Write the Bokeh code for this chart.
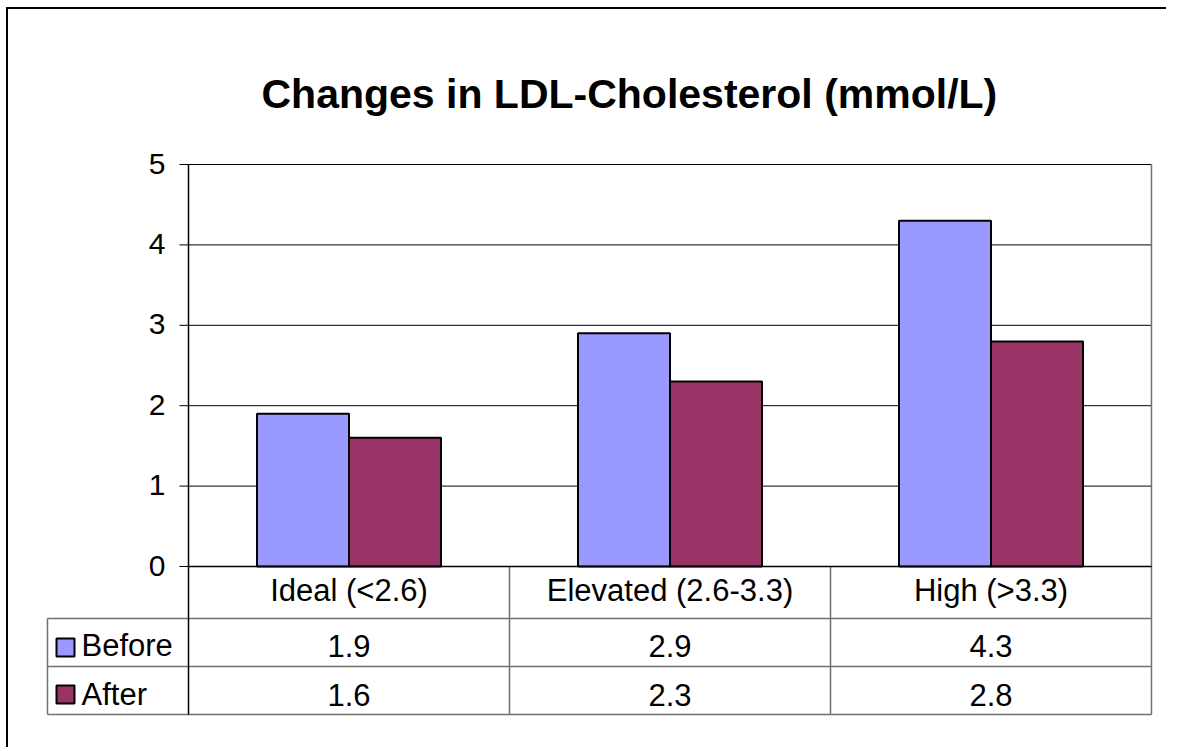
from bokeh.plotting import figure
from bokeh.models import Range1d, Title, ColumnDataSource
from bokeh.core.properties import value
from bokeh.embed import file_html
from bokeh.resources import INLINE

# ---- data ----
categories = ["Ideal (<2.6)", "Elevated (2.6-3.3)", "High (>3.3)"]
series_names = ["Before", "After"]
before = [1.9, 2.9, 4.3]
after = [1.6, 2.3, 2.8]
y_ticks = [0, 1, 2, 3, 4, 5]
title_text = "Changes in LDL-Cholesterol (mmol/L)"

# ---- styles / layout constants (pixels) ----
C_BEFORE = "#9999FF"
C_AFTER = "#993366"
FONT = "Liberation Sans"
PX_CAT = 321.0      # pixels per category
PX_UNIT = 80.4      # pixels per y unit
LEGEND_COL = 141.0  # width of the series-name column
ROW0, ROW1, ROW2 = 52.0, 48.0, 48.0
PAD = 2.0
PAD_TOP = 14.0
n = len(categories)
ymax = max(y_ticks)

def dx(px):
    return px / PX_CAT

def dy(px):
    return px / PX_UNIT

x_lo = -dx(LEGEND_COL + PAD)
x_hi = n + dx(PAD)
y_lo = -dy(ROW0 + ROW1 + ROW2 + PAD)
y_hi = ymax + dy(PAD_TOP)

p = figure(width=1160, height=740,
           x_range=Range1d(x_lo, x_hi), y_range=Range1d(y_lo, y_hi),
           x_axis_type=None, y_axis_type=None,
           output_backend="svg", toolbar_location=None,
           min_border_left=37, min_border_right=15,
           min_border_top=141, min_border_bottom=33,
           outline_line_color=None, background_fill_color="white",
           border_fill_color="white")
p.styles = {"border-left": "2px solid black", "border-top": "2px solid black",
            "margin-left": "6px", "margin-top": "7px"}

p.add_layout(Title(text=title_text, align="left", offset=216,
                   text_font=FONT, text_font_size="41px",
                   text_font_style="bold", text_color="black",
                   standoff=67), "above")

# gridlines (values above 0)
grid_vals = [t for t in y_ticks if t > 0]
p.segment(x0=[0] * len(grid_vals), x1=[n] * len(grid_vals),
          y0=grid_vals, y1=grid_vals, line_color="black", line_width=1)

# bars
bw = dx(92)
xs = [i + 0.5 for i in range(n)]
p.vbar(x=[x - bw / 2 for x in xs], top=before, width=bw, bottom=0,
       fill_color=C_BEFORE, line_color="black", line_width=2)
p.vbar(x=[x + bw / 2 for x in xs], top=after, width=bw, bottom=0,
       fill_color=C_AFTER, line_color="black", line_width=2)

# table lines
r1 = -dy(ROW0)
r2 = -dy(ROW0 + ROW1)
r3 = -dy(ROW0 + ROW1 + ROW2)
tx0 = -dx(LEGEND_COL)
tbl_h = ColumnDataSource(dict(x0=[tx0, tx0, tx0], x1=[n, n, n], y0=[r1, r2, r3], y1=[r1, r2, r3]))
p.segment(x0="x0", x1="x1", y0="y0", y1="y1", source=tbl_h, line_color="#707070", line_width=1.5)
inner = list(range(1, n))
p.segment(x0=inner, x1=inner, y0=[0] * len(inner), y1=[r3] * len(inner),
          line_color="#707070", line_width=1.5)
p.segment(x0=[tx0], x1=[tx0], y0=[r1], y1=[r3], line_color="#707070", line_width=1.5)
p.segment(x0=[n], x1=[n], y0=[ymax], y1=[r3], line_color="#707070", line_width=1.5)

# axes
p.segment(x0=[0], x1=[0], y0=[r3], y1=[ymax], line_color="black", line_width=1.5)
p.segment(x0=[0], x1=[n], y0=[0], y1=[0], line_color="black", line_width=1.5)
p.segment(x0=[-dx(9)] * len(y_ticks), x1=[0] * len(y_ticks), y0=y_ticks, y1=y_ticks,
          line_color="black", line_width=1)
p.text(x=[-dx(23)] * len(y_ticks), y=[t + dy(1) for t in y_ticks],
       text=[str(t) for t in y_ticks], text_align="right", text_baseline="alphabetic",
       text_font=value(FONT), text_font_size=value("30px"), text_color="black")

# category labels
p.text(x=xs, y=[-dy(24)] * n, text=categories, text_align="center",
       text_baseline="alphabetic", text_font=value(FONT),
       text_font_size=value("31px"), text_color="black")

# values
p.text(x=xs, y=[-dy(79)] * n, text=[f"{v:.1f}" for v in before], text_align="center",
       text_baseline="alphabetic", text_font=value(FONT),
       text_font_size=value("31px"), text_color="black")
p.text(x=xs, y=[-dy(128)] * n, text=[f"{v:.1f}" for v in after], text_align="center",
       text_baseline="alphabetic", text_font=value(FONT),
       text_font_size=value("31px"), text_color="black")

# legend keys and names
key_x = -dx(188 - 65)
p.scatter(x=[key_x, key_x], y=[-dy(81), -dy(128)], marker="square", size=18,
          fill_color=[C_BEFORE, C_AFTER], line_color="black", line_width=2)
p.text(x=[-dx(188 - 81)] * 2, y=[-dy(79), -dy(128)], text=series_names,
       text_align="left", text_baseline="alphabetic", text_font=value(FONT),
       text_font_size=value("31px"), text_color="black")

open("out.html", "w").write(file_html(p, INLINE))
